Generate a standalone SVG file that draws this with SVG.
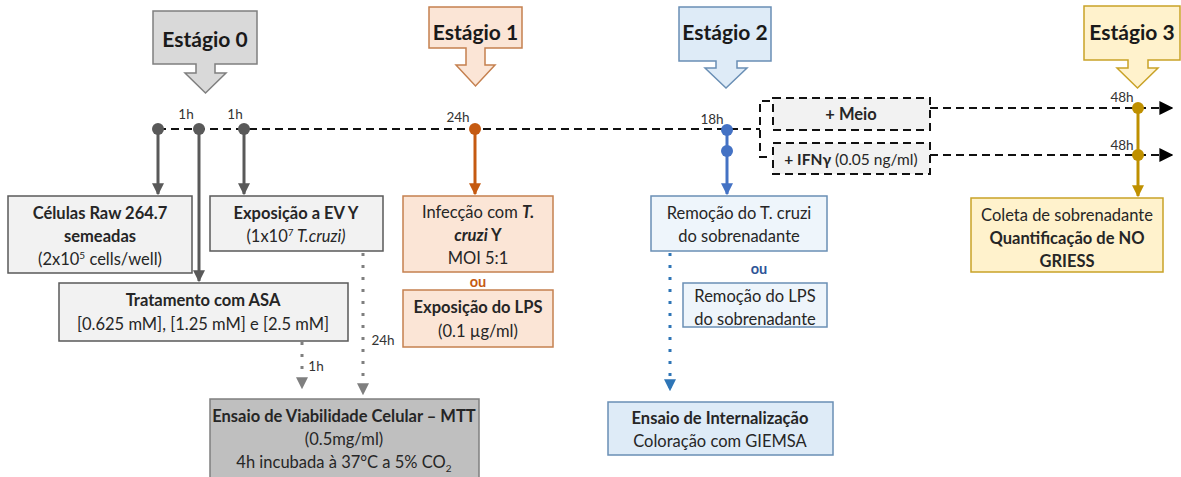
<svg xmlns="http://www.w3.org/2000/svg" width="1181" height="477" viewBox="0 0 1181 477">
<defs>
<style>
text{font-family:Lato,"Liberation Sans",sans-serif;fill:#262626;text-anchor:middle}
.t{font-size:16.5px}
.b{font-weight:bold}
.st{font-size:21px;font-weight:bold;fill:#1a1a1a}
.h{font-size:13.5px;fill:#333}
.box{stroke-width:1.5}
.dash{stroke:#111;stroke-width:2;stroke-dasharray:8 5;fill:none}
.dot{stroke-width:3;stroke-dasharray:3 9;fill:none}
</style>
<marker id="ag" viewBox="0 0 10 10" refX="9" refY="5" markerWidth="4" markerHeight="4" orient="auto"><path d="M0,0L10,5L0,10z" fill="#595959"/></marker>
<marker id="ao" viewBox="0 0 10 10" refX="9" refY="5" markerWidth="4" markerHeight="4" orient="auto"><path d="M0,0L10,5L0,10z" fill="#c55a11"/></marker>
<marker id="ab" viewBox="0 0 10 10" refX="9" refY="5" markerWidth="4" markerHeight="4" orient="auto"><path d="M0,0L10,5L0,10z" fill="#4472c4"/></marker>
<marker id="ay" viewBox="0 0 10 10" refX="9" refY="5" markerWidth="4" markerHeight="4" orient="auto"><path d="M0,0L10,5L0,10z" fill="#bf9000"/></marker>
<marker id="ak" viewBox="0 0 10 10" refX="9" refY="5" markerWidth="7" markerHeight="7" orient="auto"><path d="M0,0L10,5L0,10z" fill="#000"/></marker>
<marker id="adg" viewBox="0 0 10 10" refX="9" refY="5" markerWidth="4" markerHeight="4" orient="auto"><path d="M0,0L10,5L0,10z" fill="#7f7f7f"/></marker>
<marker id="adb" viewBox="0 0 10 10" refX="9" refY="5" markerWidth="4" markerHeight="4" orient="auto"><path d="M0,0L10,5L0,10z" fill="#2e75b6"/></marker>
</defs>
<rect width="1181" height="477" fill="#fff"/>

<!-- Stage callouts -->
<g id="stage0">
<path d="M153,11H257V64H215V73H226L205.5,93L185,73H196V64H153Z" fill="#d9d9d9" stroke="#7f7f7f" stroke-width="1.5"/>
<text class="st" x="205" y="47">Estágio 0</text>
</g>
<g id="stage1">
<path d="M429,7H522V48H485V65H495L475.5,86L456,65H466V48H429Z" fill="#fbe5d6" stroke="#c5804f" stroke-width="1.5"/>
<text class="st" x="475.5" y="40">Estágio 1</text>
</g>
<g id="stage2">
<path d="M679,7H771V61H737V68H747L726,88L705,68H716V61H679Z" fill="#deebf7" stroke="#6a8fb5" stroke-width="1.5"/>
<text class="st" x="725" y="40">Estágio 2</text>
</g>
<g id="stage3">
<path d="M1084,6H1180V60H1148V68H1158L1137.5,88L1117,68H1128V60H1084Z" fill="#fff2cc" stroke="#c9a227" stroke-width="1.5"/>
<text class="st" x="1132" y="40">Estágio 3</text>
</g>

<!-- Connectors -->
<g id="connectors">
<path class="dash" d="M158,129H760"/>
<path class="dash" d="M770,101H760V157H770"/>
<path class="dash" d="M930,108H1172" marker-end="url(#ak)"/>
<path class="dash" d="M930,155H1172" marker-end="url(#ak)"/>
<line x1="158" y1="129" x2="158" y2="194" stroke="#595959" stroke-width="3" marker-end="url(#ag)"/>
<line x1="199" y1="129" x2="199" y2="281" stroke="#595959" stroke-width="3" marker-end="url(#ag)"/>
<line x1="244" y1="129" x2="244" y2="194" stroke="#595959" stroke-width="3" marker-end="url(#ag)"/>
<line x1="475" y1="129" x2="475" y2="194" stroke="#c55a11" stroke-width="3" marker-end="url(#ao)"/>
<line x1="727" y1="130" x2="727" y2="194" stroke="#4472c4" stroke-width="3" marker-end="url(#ab)"/>
<line x1="1138" y1="108" x2="1138" y2="196" stroke="#bf9000" stroke-width="3" marker-end="url(#ay)"/>
<circle cx="158" cy="129" r="6" fill="#595959"/>
<circle cx="199" cy="129" r="6" fill="#595959"/>
<circle cx="244" cy="129" r="6" fill="#595959"/>
<circle cx="475" cy="129" r="6" fill="#c55a11"/>
<circle cx="727" cy="130" r="6" fill="#4472c4"/>
<circle cx="727" cy="151" r="6" fill="#4472c4"/>
<circle cx="1138" cy="108" r="6" fill="#bf9000"/>
<circle cx="1138" cy="155" r="6" fill="#bf9000"/>
<path class="dot" stroke="#7f7f7f" d="M302,342V388" marker-end="url(#adg)"/>
<path class="dot" stroke="#7f7f7f" d="M363,253V394" marker-end="url(#adg)"/>
<path class="dot" stroke="#2e75b6" d="M670,253V390" marker-end="url(#adb)"/>
<text class="h" x="186" y="119">1h</text>
<text class="h" x="235" y="119">1h</text>
<text class="h" x="458" y="122">24h</text>
<text class="h" x="712" y="124">18h</text>
<text class="h" x="1122" y="102">48h</text>
<text class="h" x="1122" y="150">48h</text>
<text class="h" x="383" y="345">24h</text>
<text class="h" x="316" y="371">1h</text>
</g>

<!-- Nodes -->
<g id="meio">
<rect x="773" y="98" width="157" height="32" fill="#f2f2f2" stroke="#111" stroke-width="2" stroke-dasharray="8 5"/>
<text class="t b" x="851" y="120">+ Meio</text>
</g>
<g id="ifn">
<rect x="773" y="143" width="157" height="31" fill="#f2f2f2" stroke="#111" stroke-width="2" stroke-dasharray="8 5"/>
<text class="t" x="851" y="165" style="font-size:15.5px"><tspan class="b">+ IFNγ</tspan> (0.05 ng/ml)</text>
</g>
<g id="celulas">
<rect class="box" x="8" y="196" width="184" height="77" fill="#f2f2f2" stroke="#595959"/>
<text class="t b" x="100" y="219">Células Raw 264.7</text>
<text class="t b" x="100" y="242">semeadas</text>
<text class="t" x="100" y="265">(2x10<tspan font-size="10" dy="-6">5</tspan><tspan dy="6"> cells/well)</tspan></text>
</g>
<g id="exposicao-ev">
<rect class="box" x="210" y="196" width="173" height="55" fill="#f2f2f2" stroke="#595959"/>
<text class="t b" x="296" y="219">Exposição a EV Y</text>
<text class="t" x="296" y="242">(1x10<tspan font-size="10" dy="-6">7</tspan><tspan dy="6" font-style="italic"> T.cruzi)</tspan></text>
</g>
<g id="tratamento">
<rect class="box" x="59" y="283" width="289" height="58" fill="#f2f2f2" stroke="#595959"/>
<text class="t b" x="203" y="306">Tratamento com ASA</text>
<text class="t" x="203" y="330">[0.625 mM], [1.25 mM] e [2.5 mM]</text>
</g>
<g id="infeccao">
<rect class="box" x="403" y="196" width="150" height="76" fill="#fbe5d6" stroke="#c5804f"/>
<text class="t" x="478" y="218">Infecção com <tspan class="b" font-style="italic">T.</tspan></text>
<text class="t b" x="478" y="241"><tspan font-style="italic">cruzi</tspan> Y</text>
<text class="t" x="478" y="264">MOI 5:1</text>
</g>
<text class="t b" x="478" y="287" style="fill:#c55a11;font-size:14.5px">ou</text>
<g id="lps">
<rect class="box" x="403" y="290" width="150" height="57" fill="#fbe5d6" stroke="#c5804f"/>
<text class="t b" x="478" y="313">Exposição do LPS</text>
<text class="t" x="478" y="337">(0.1 µg/ml)</text>
</g>
<g id="remocao-tcruzi">
<rect class="box" x="651" y="196" width="176" height="55" fill="#eef5fb" stroke="#6a8fb5"/>
<text class="t" x="739" y="219">Remoção do T. cruzi</text>
<text class="t" x="739" y="242">do sobrenadante</text>
</g>
<text class="t b" x="759" y="274" style="fill:#2e5597;font-size:14.5px">ou</text>
<g id="remocao-lps">
<rect class="box" x="683" y="283" width="144" height="44" fill="#eef5fb" stroke="#6a8fb5"/>
<text class="t" x="755" y="302">Remoção do LPS</text>
<text class="t" x="755" y="325">do sobrenadante</text>
</g>
<g id="mtt">
<rect class="box" x="210" y="399" width="269" height="80" fill="#bfbfbf" stroke="#7f7f7f"/>
<text class="t b" x="344" y="422">Ensaio de Viabilidade Celular – MTT</text>
<text class="t" x="344" y="445">(0.5mg/ml)</text>
<text class="t" x="344" y="468">4h incubada à 37°C a 5% CO<tspan font-size="10" dy="4">2</tspan></text>
</g>
<g id="internalizacao">
<rect class="box" x="608" y="402" width="225" height="53" fill="#deebf7" stroke="#6a8fb5"/>
<text class="t b" x="720" y="424">Ensaio de Internalização</text>
<text class="t" x="720" y="447">Coloração com GIEMSA</text>
</g>
<g id="coleta">
<rect class="box" x="971" y="198" width="192" height="74" fill="#fff2cc" stroke="#c9a227"/>
<text class="t" x="1067" y="221">Coleta de sobrenadante</text>
<text class="t b" x="1067" y="244">Quantificação de NO</text>
<text class="t b" x="1067" y="267">GRIESS</text>
</g>
</svg>
